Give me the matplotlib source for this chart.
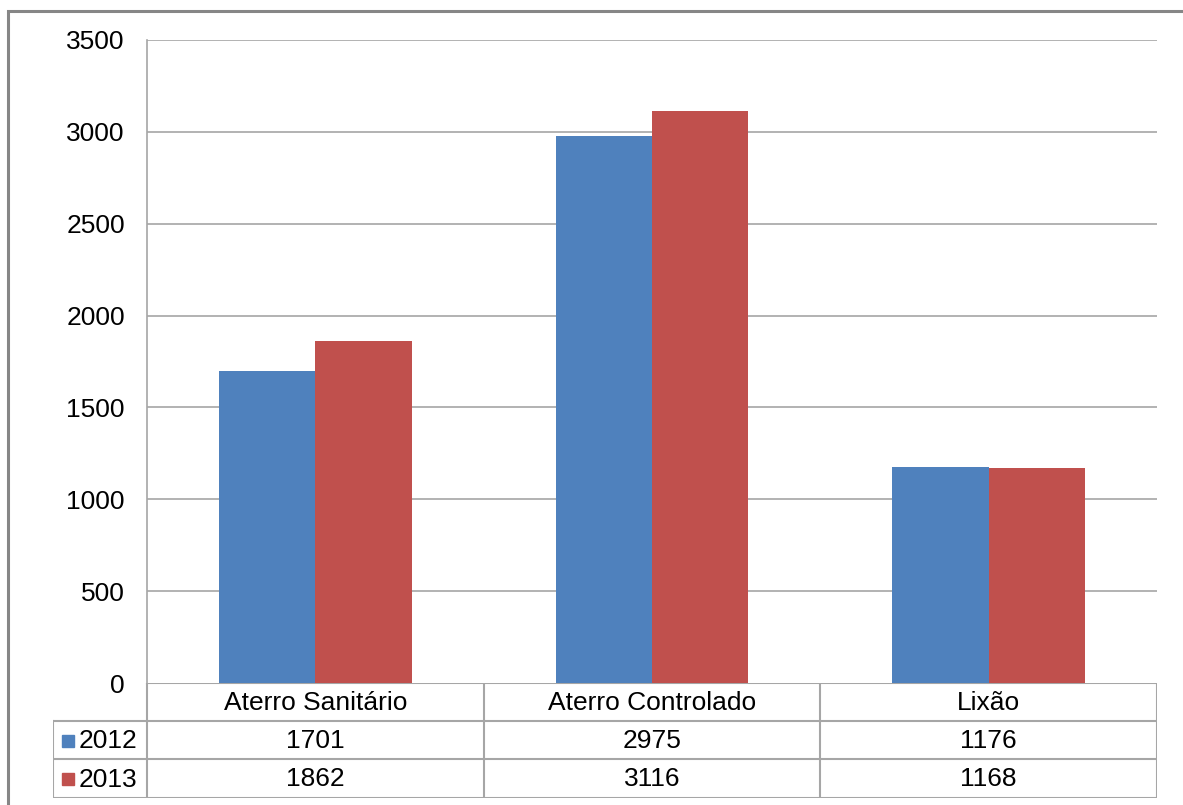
import matplotlib.pyplot as plt
from matplotlib.patches import Rectangle
from matplotlib.lines import Line2D

categories = ["Aterro Sanitário", "Aterro Controlado", "Lixão"]
series_names = ["2012", "2013"]
values_2012 = [1701, 2975, 1176]
values_2013 = [1862, 3116, 1168]
yticks = [0, 500, 1000, 1500, 2000, 2500, 3000, 3500]

colors = ["#4F81BD", "#C0504D"]
grid_color = "#A6A6A6"
fs = 19
plt.rcParams["font.family"] = ["Liberation Sans", "DejaVu Sans"]

W, H = 1183, 805
fig = plt.figure(figsize=(W / 100, H / 100), dpi=100)


def px_box(x0, y0, x1, y1):
    # pixel box (top-left origin) -> figure fraction rect
    return [x0 / W, 1 - y1 / H, (x1 - x0) / W, (y1 - y0) / H]


# chart area border
fig.add_artist(Rectangle((8 / W, -0.1), 1.2, 1 - 11 / H + 0.1, transform=fig.transFigure,
                         fill=False, edgecolor="#868686", linewidth=2.2))

# main plot area
ax = fig.add_axes(px_box(147, 40, 1157, 683))
n = len(categories)
bar_w = 1 / 3.5
xs = list(range(n))
ax.bar([x - bar_w / 2 for x in xs], values_2012, width=bar_w, color=colors[0], zorder=3)
ax.bar([x + bar_w / 2 for x in xs], values_2013, width=bar_w, color=colors[1], zorder=3)
ax.set_xlim(-0.5, n - 0.5)
ax.set_ylim(0, 3500)
ax.set_yticks(yticks)
ax.set_yticklabels([str(t) for t in yticks], fontsize=fs)
ax.tick_params(axis="y", length=0, pad=16)
ax.set_xticks([])
for t in yticks[1:]:
    ax.axhline(t, color=grid_color, linewidth=1.2, zorder=1)
for side in ["top", "right", "bottom"]:
    ax.spines[side].set_visible(False)
ax.spines["left"].set_color(grid_color)
ax.spines["left"].set_linewidth(1.2)

# data table below the plot
tab = fig.add_axes(px_box(53, 683, 1157, 798))
tab.set_xlim(53, 1157)
tab.set_ylim(798, 683)
tab.axis("off")
col_edges = [147 + i * (1157 - 147) / n for i in range(n + 1)]
row_edges = [683, 721, 759, 798]
lc = dict(color=grid_color, linewidth=1.5, solid_capstyle="projecting")

tab.add_line(Line2D([147, 1157], [683, 683], **lc))
for y in row_edges[1:]:
    tab.add_line(Line2D([53, 1157], [y, y], **lc))
tab.add_line(Line2D([53, 53], [721, 798], **lc))
for x in col_edges:
    tab.add_line(Line2D([x, x], [683, 798], **lc))

for i, cat in enumerate(categories):
    cx = (col_edges[i] + col_edges[i + 1]) / 2
    tab.text(cx, 703, cat, ha="center", va="center", fontsize=fs)
    tab.text(cx, 741, str(values_2012[i]), ha="center", va="center", fontsize=fs)
    tab.text(cx, 779, str(values_2013[i]), ha="center", va="center", fontsize=fs)

for j, name in enumerate(series_names):
    yc = (row_edges[j + 1] + row_edges[j + 2]) / 2
    tab.add_patch(Rectangle((62, yc - 5.5), 12, 12, color=colors[j]))
    tab.text(79, yc + 1, name, ha="left", va="center", fontsize=fs)

fig.savefig("out.png", dpi=100)
